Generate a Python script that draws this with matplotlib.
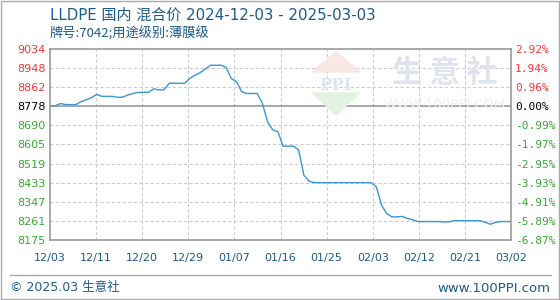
import numpy as np
import matplotlib.pyplot as plt
from matplotlib.patches import Polygon, Rectangle

plt.rcParams['font.family'] = ['DejaVu Sans', 'Noto Sans CJK SC']

# dados: preco diario 2024-12-03 ate 2025-03-02
valores = [8778, 8778, 8789, 8784, 8784, 8784, 8797, 8806, 8815, 8830,
           8821, 8821, 8821, 8817, 8817, 8827, 8834, 8839, 8839, 8839,
           8855, 8850, 8850, 8880, 8880, 8880, 8880, 8902, 8916, 8928,
           8945, 8961, 8961, 8961, 8952, 8901, 8887, 8842, 8834, 8834,
           8834, 8790, 8707, 8670, 8662, 8597, 8597, 8597, 8580, 8467,
           8440, 8433, 8433, 8433, 8433, 8433, 8433, 8433, 8433, 8433,
           8433, 8433, 8433, 8414, 8332, 8294, 8279, 8279, 8281, 8272,
           8266, 8258, 8258, 8258, 8258, 8258, 8256, 8256, 8262, 8262,
           8262, 8262, 8262, 8262, 8255, 8246, 8254, 8258, 8258, 8258]
datas = ['12/03', '12/11', '12/20', '12/29', '01/07', '01/16',
         '01/25', '02/03', '02/12', '02/21', '03/02']
y_ticks = [8175, 8261, 8347, 8433, 8519, 8605, 8690, 8778, 8862, 8948, 9034]
pct_labels = ['-6.87%', '-5.89%', '-4.91%', '-3.93%', '-2.95%', '-1.97%',
              '-0.99%', '0.00%', '0.96%', '1.94%', '2.92%']
base = 8778

vermelho = '#ff3333'
verde = '#33aa33'
azul_txt = '#1d5a8c'

fig = plt.figure(figsize=(5.6, 3.0), dpi=100)
ax = fig.add_axes([50/560, 60/300, 461/560, 191/300])

x = np.arange(len(valores))
n = len(valores) - 1
ax.set_xlim(0, n)
ax.set_ylim(y_ticks[0], y_ticks[-1])

# marca d'agua
def fx(px):
    return px / 560
def fy(py):
    return 1 - py / 300
fig.patches.append(Polygon([(fx(336), fy(52)), (fx(312), fy(72)), (fx(360), fy(72))],
                           closed=True, transform=fig.transFigure, color='#fbe6e6', zorder=0))
fig.patches.append(Polygon([(fx(312), fy(93)), (fx(360), fy(93)), (fx(336), fy(115))],
                           closed=True, transform=fig.transFigure, color='#e2f3e2', zorder=0))
fig.text(fx(336), fy(85), 'PPI', fontsize=12, color='#dfe4ef', ha='center', va='center',
         family='DejaVu Serif', weight='bold', zorder=0)
fig.text(fx(445), fy(73), '生 意 社', fontsize=22, color='#dfe3ed', ha='center', va='center',
         family='Noto Sans CJK SC', weight='bold', zorder=0)
fig.text(fx(445), fy(104), 'WWW.100PPI.COM', fontsize=9.5, color='#efefef', ha='center',
         va='center', zorder=0)
ax.set_facecolor('none')

# grade
for yt in y_ticks[1:-1]:
    if yt == base:
        continue
    ax.axhline(yt, color='#cccccc', lw=0.8, ls=(0, (3, 2)))
for xt in np.linspace(0, n, len(datas))[1:-1]:
    ax.axvline(xt, color='#cccccc', lw=0.8, ls=(0, (3, 2)))
ax.axhline(base, color='#999999', lw=1.2)

ax.plot(x, valores, color='#3a96d6', lw=1.0)

for s in ax.spines.values():
    s.set_color('#999999')
    s.set_linewidth(1.2)

ax.set_xticks(np.linspace(0, n, len(datas)))
ax.set_xticklabels(datas, fontsize=8, color=azul_txt)
ax.tick_params(axis='x', length=0, pad=9)
ax.set_yticks(y_ticks)
ax.set_yticklabels([str(v) for v in y_ticks], fontsize=8)
ax.tick_params(axis='y', length=0, pad=3)
for lab, v in zip(ax.get_yticklabels(), y_ticks):
    lab.set_color(vermelho if v > base else ('black' if v == base else verde))

ax2 = ax.twinx()
ax2.set_ylim(ax.get_ylim())
ax2.set_yticks(y_ticks)
ax2.set_yticklabels(pct_labels, fontsize=8, family='DejaVu Sans Mono')
ax2.tick_params(axis='y', length=0, pad=3)
for lab, v in zip(ax2.get_yticklabels(), y_ticks):
    lab.set_color(vermelho if v > base else ('black' if v == base else verde))
for s in ax2.spines.values():
    s.set_visible(False)

# titulos
fig.text(fx(50), fy(15), 'LLDPE 国内 混合价 2024-12-03 - 2025-03-03', fontsize=10.8,
         color=azul_txt, va='center', family=['DejaVu Sans', 'Noto Sans CJK SC'])
fig.text(fx(50), fy(34), '牌号:7042;用途级别:薄膜级', fontsize=9.5,
         color=azul_txt, va='center', family=['Noto Sans CJK SC', 'DejaVu Sans'])

# rodape
fig.add_artist(plt.Line2D([fx(10), fx(551)], [fy(275), fy(275)], color='#aaaaaa', lw=1,
                          transform=fig.transFigure))
fig.text(fx(10), fy(288), '© 2025.03 生意社', fontsize=9, color=azul_txt, va='center',
         family=['DejaVu Sans', 'Noto Sans CJK SC'])
fig.text(fx(550), fy(288), 'www.100PPI.com', fontsize=9.5, color=azul_txt, va='center',
         ha='right')
fig.patches.append(Rectangle((0.001, 0.002), 0.997, 0.995, transform=fig.transFigure,
                             fill=False, edgecolor='#aaaaaa', lw=1))

fig.savefig('out.png', dpi=100)
plt.close()
